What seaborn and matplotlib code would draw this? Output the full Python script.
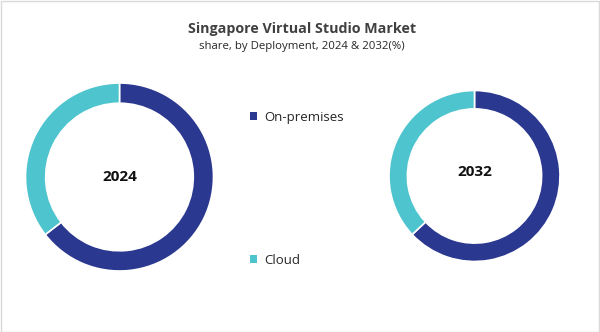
import matplotlib
matplotlib.use("Agg")
import matplotlib.pyplot as plt
from matplotlib.patches import Rectangle, Patch
import seaborn as sns

# Deployment shares (%)
segments = ["On-premises", "Cloud"]
share_2024 = [64.5, 35.5]
share_2032 = [63.0, 37.0]
years = ["2024", "2032"]

sns.set_theme(style="white")
plt.rcParams["font.family"] = ["Open Sans", "DejaVu Sans"]

colors = ["#2A3890", "#4EC4CF"]

W, H = 600, 332
fig = plt.figure(figsize=(W / 100, H / 100), dpi=100)
fig.patch.set_facecolor("white")


def px_axes(cx, cy, r):
    # axes square centred on (cx, cy) in pixel coords measured from top-left
    return fig.add_axes([(cx - r) / W, (H - cy - r) / H, 2 * r / W, 2 * r / H])


def donut(ax, values, label, label_dy=0.0):
    ax.pie(values, colors=colors, startangle=90, counterclock=False, radius=1.0,
           wedgeprops=dict(width=0.215, edgecolor="white", linewidth=1.2))
    ax.set_xlim(-1, 1)
    ax.set_ylim(-1, 1)
    ax.set_aspect("equal")
    ax.axis("off")
    ax.text(0, label_dy, label, ha="center", va="center", fontsize=11,
            fontweight="bold", color="#111111")


ax1 = px_axes(119.5, 177, 94)
donut(ax1, share_2024, years[0])

ax2 = px_axes(474.5, 176, 85.5)
donut(ax2, share_2032, years[1], label_dy=0.05)

# Title and subtitle
fig.text(0.503, 1 - 29 / H, "Singapore Virtual Studio Market", ha="center",
         va="center", fontsize=10.3, fontweight="bold", color="#404040")
fig.text(0.503, 1 - 47 / H, "share, by Deployment, 2024 & 2032(%)", ha="center",
         va="center", fontsize=8.2, color="#262626")

# Legend entries
handles = [Patch(facecolor=c, edgecolor="none") for c in colors]
leg = fig.legend(handles, segments, loc="upper left",
                 bbox_to_anchor=(250 / W, 1 - 111 / H), frameon=False,
                 fontsize=9.5, handlelength=0.55, handleheight=0.55,
                 handletextpad=0.5, labelspacing=9.85, borderpad=0,
                 borderaxespad=0)
for t in leg.get_texts():
    t.set_color("#262626")

# Outer frame
fig.add_artist(Rectangle((0.5 / W, 0.5 / H), 1 - 1.5 / W, 1 - 1.5 / H,
                         transform=fig.transFigure, fill=False,
                         edgecolor="#D9D9D9", linewidth=1))

fig.savefig("out.png", dpi=100, facecolor="white")
